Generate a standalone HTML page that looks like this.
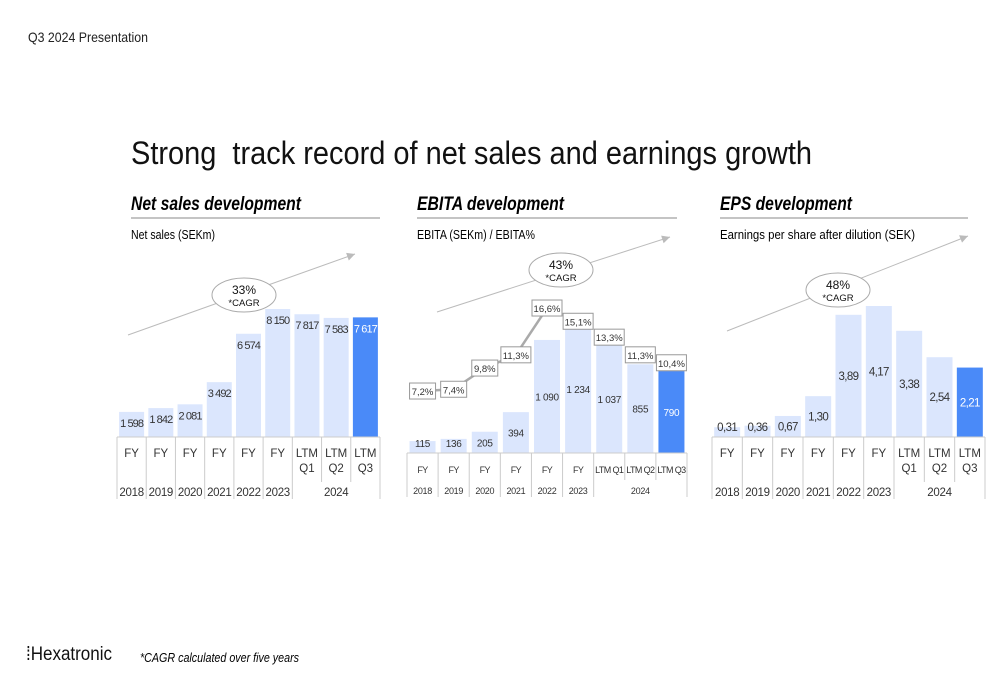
<!DOCTYPE html>
<html><head><meta charset="utf-8">
<style>
body{margin:0;width:1000px;height:685px;background:#fff;overflow:hidden;font-family:"Liberation Sans",sans-serif;color:#222}
svg text{font-family:"Liberation Sans",sans-serif}
</style></head>
<body>
<svg id="s" width="1000" height="685" viewBox="0 0 1000 685" xmlns="http://www.w3.org/2000/svg">
<text x="28" y="42" font-size="14" fill="#222" textLength="120" lengthAdjust="spacingAndGlyphs">Q3 2024 Presentation</text>
<text x="131" y="164" font-size="32" fill="#111" xml:space="preserve" textLength="681" lengthAdjust="spacingAndGlyphs">Strong  track record of net sales and earnings growth</text>
<g>
<text x="131" y="210" font-size="19" font-weight="bold" font-style="italic" textLength="170" lengthAdjust="spacingAndGlyphs">Net sales development</text>
<line x1="131" y1="218" x2="380" y2="218" stroke="#888" stroke-width="1"/>
<text x="131" y="239" font-size="13" textLength="84" lengthAdjust="spacingAndGlyphs">Net sales (SEKm)</text></g>
<g>
<text x="417" y="210" font-size="19" font-weight="bold" font-style="italic" textLength="147" lengthAdjust="spacingAndGlyphs">EBITA development</text>
<line x1="417" y1="218" x2="677" y2="218" stroke="#888" stroke-width="1"/>
<text x="417" y="239" font-size="13" textLength="118" lengthAdjust="spacingAndGlyphs">EBITA (SEKm) / EBITA%</text></g>
<g>
<text x="720" y="210" font-size="19" font-weight="bold" font-style="italic" textLength="132" lengthAdjust="spacingAndGlyphs">EPS development</text>
<line x1="720" y1="218" x2="968" y2="218" stroke="#888" stroke-width="1"/>
<text x="720" y="239" font-size="13" textLength="195" lengthAdjust="spacingAndGlyphs">Earnings per share after dilution (SEK)</text></g>
<text x="26" y="660" font-size="19" fill="#111" textLength="86" lengthAdjust="spacingAndGlyphs">⁞Hexatronic</text>
<text x="140" y="662" font-size="13" font-style="italic" textLength="159" lengthAdjust="spacingAndGlyphs">*CAGR calculated over five years</text>
</svg>
<script>
const NS='http://www.w3.org/2000/svg';
const svg=document.getElementById('s');
const topRow=['FY','FY','FY','FY','FY','FY','LTM','LTM','LTM'];
const subRow=['','','','','','','Q1','Q2','Q3'];
const years=['2018','2019','2020','2021','2022','2023','2024'];
const salesValues=[1598,1842,2081,3492,6574,8150,7817,7583,7617];
const salesLabels=['1 598','1 842','2 081','3 492','6 574','8 150','7 817','7 583','7 617'];
const ebitaValues=[115,136,205,394,1090,1234,1037,855,790];
const ebitaLabels=['115','136','205','394','1 090','1 234','1 037','855','790'];
const ebitaMargins=[7.2,7.4,9.8,11.3,16.6,15.1,13.3,11.3,10.4];
const marginLabels=['7,2%','7,4%','9,8%','11,3%','16,6%','15,1%','13,3%','11,3%','10,4%'];
const epsValues=[0.31,0.36,0.67,1.30,3.89,4.17,3.38,2.54,2.21];
const epsLabels=['0,31','0,36','0,67','1,30','3,89','4,17','3,38','2,54','2,21'];
const cagrLabels=['33%','43%','48%'];

function el(t,a,p){const e=document.createElementNS(NS,t);for(const k in a)e.setAttribute(k,a[k]);(p||svg).appendChild(e);return e;}

function cagr(name,x1,y1,x2,y2,cx,cy,label){
  const g=el('g',{});
  
  
  el('line',{x1:x1,y1:y1,x2:x2,y2:y2,stroke:'#bbb','stroke-width':1},g);
  const a=Math.atan2(y2-y1,x2-x1);
  const p=(d,o)=>[x2-d*Math.cos(a)+o*Math.sin(a),y2-d*Math.sin(a)-o*Math.cos(a)];
  const q=p(8,4),r=p(8,-4);
  el('polygon',{points:`${x2},${y2} ${q[0]},${q[1]} ${r[0]},${r[1]}`,fill:'#bbb'},g);
  el('ellipse',{cx:cx,cy:cy,rx:32,ry:17,fill:'#fff',stroke:'#aaa','stroke-width':1},g);
  const t1=el('text',{x:cx,y:cy-1,'font-size':12,'text-anchor':'middle',fill:'#111'},g);t1.textContent=label;
  const t2=el('text',{x:cx,y:cy+11,'font-size':9.5,'text-anchor':'middle',fill:'#111'},g);t2.textContent='*CAGR';
}

function chart(o){
  const g=el('g',{});
  
  
  const n=o.values.length, sw=o.width/n;
  const max=Math.max(...o.values);
  const yScale=v=>o.base-v/max*o.maxH;
  o.values.forEach((v,i)=>{
    const x=o.x0+i*sw+(sw-o.bw)/2, y=yScale(v), h=o.base-y;
    const r=el('rect',{x:x,y:y,width:o.bw,height:h,fill:i===n-1?'#4a8af8':'#dbe6fd'},g);
    
    
    let ly;
    if(o.labelMode==='top') ly=y+15; else ly=Math.min(y+h/2+4,o.base-6);
    const t=el('text',{x:x+o.bw/2,y:ly,'font-size':o.fs,'text-anchor':'middle',fill:i===n-1?'#fff':'#333','letter-spacing':o.ls},g);
    
    
    t.textContent=o.labels[i];
  });
  const bottom=o.base+o.tableH;
  for(let i=0;i<=n;i++){
    const x=o.x0+i*sw;
    const end=(i===7||i===8)?o.base+o.splitH:bottom;
    el('line',{x1:x,y1:o.base,x2:x,y2:end,stroke:'#ccc','stroke-width':1},g);
  }
  el('line',{x1:o.x0,y1:o.base,x2:o.x0+o.width,y2:o.base,stroke:'#ccc','stroke-width':1},g);
  for(let i=0;i<n;i++){
    const cx=o.x0+i*sw+sw/2;
    const txt=o.inlineLtm&&subRow[i]?topRow[i]+' '+subRow[i]:topRow[i];
    const t=el('text',{x:cx,y:o.base+o.catY,'font-size':o.catFs,'text-anchor':'middle',fill:'#333','letter-spacing':o.inlineLtm?'-0.6':'0'},g);
    t.textContent=txt;
    if(!o.inlineLtm&&subRow[i]){const t2=el('text',{x:cx,y:o.base+o.catY+15,'font-size':o.catFs,'text-anchor':'middle',fill:'#333'},g);t2.textContent=subRow[i];}
  }
  years.forEach((yr,j)=>{
    const cx=j<6?o.x0+j*sw+sw/2:o.x0+7.5*sw;
    const t=el('text',{x:cx,y:o.base+o.yearY,'font-size':o.catFs,'text-anchor':'middle',fill:'#333','letter-spacing':'-0.3'},g);
    t.textContent=yr;
  });
  return {sw,yScale};
}

chart({name:'net-sales-chart',key:'sales',values:salesValues,labels:salesLabels,x0:117,width:263,base:437,maxH:128,bw:25,fs:11,ls:'-0.9',catFs:11.5,catY:20,yearY:59,tableH:62,splitH:45,labelMode:'top',inlineLtm:false});
const eb=chart({name:'ebita-chart',key:'ebita',values:ebitaValues,labels:ebitaLabels,x0:407,width:280,base:453,maxH:128,bw:26,fs:10,ls:'-0.3',catFs:9,catY:20,yearY:41,tableH:44,splitH:27,labelMode:'mid',inlineLtm:true});
chart({name:'eps-chart',key:'eps',values:epsValues,labels:epsLabels,x0:712,width:273,base:437,maxH:131,bw:26,fs:11.5,ls:'-0.6',catFs:11.5,catY:20,yearY:59,tableH:62,splitH:45,labelMode:'mid',inlineLtm:false});

const mY=m=>454.6-8.83*m;
const mg=el('g',{});


const mx=i=>407+i*eb.sw+eb.sw/2;
el('polyline',{points:ebitaMargins.slice(0,5).map((m,i)=>mx(i)+','+mY(m)).join(' '),fill:'none',stroke:'#aaa','stroke-width':2.5},mg);
ebitaMargins.forEach((m,i)=>{
  const w=marginLabels[i].length>4?30:26;
  const r=el('rect',{x:mx(i)-w/2,y:mY(m)-8,width:w,height:16,fill:'#fff',stroke:'#999','stroke-width':1},mg);
  
  
  const t=el('text',{x:mx(i),y:mY(m)+4,'font-size':9.5,'text-anchor':'middle',fill:'#333'},mg);
  t.textContent=marginLabels[i];
});

cagr('net-sales-cagr',128,335,355,254,244,295,cagrLabels[0]);
cagr('ebita-cagr',437,312,670,237,561,270,cagrLabels[1]);
cagr('eps-cagr',727,331,968,236,838,290,cagrLabels[2]);
</script>
</body></html>
